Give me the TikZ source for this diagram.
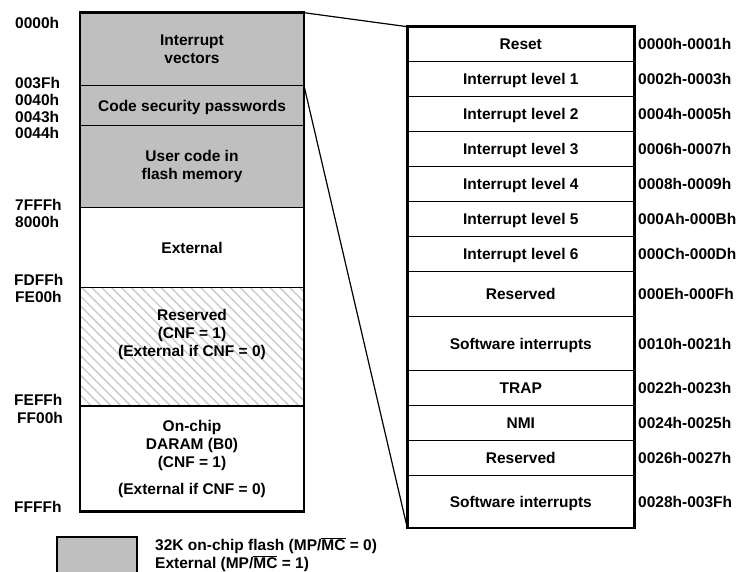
\documentclass[tikz,border=0pt]{standalone}
\usepackage{fontspec}
\setmainfont{Liberation Sans}
\usetikzlibrary{positioning,patterns.meta}

\definecolor{flashgray}{gray}{0.75}
\definecolor{hatchgray}{gray}{0.8}

\tikzset{
  region/.style={draw,line width=1.2pt,minimum width=224pt,inner sep=0pt,outer sep=0pt,align=center},
  capline/.style={text height=11.1pt,text depth=0pt},
  vrow/.style={draw,line width=1.2pt,minimum width=227pt,minimum height=35pt,inner sep=0pt,outer sep=0pt,capline},
  addr/.style={anchor=west,inner sep=0pt},
  frame/.style={line width=2.6pt},
  hatch/.style={pattern={Lines[angle=-45,distance=7pt,line width=1.5pt]},pattern color=hatchgray},
}

\begin{document}
\begin{tikzpicture}[x=1pt,y=-1pt,font=\fontsize{15.5}{18}\selectfont\bfseries]
        \useasboundingbox (0,0) rectangle (747,572);

        % карта памяти программ
        \node[region,fill=flashgray,minimum height=73pt] (vec) at (192,49.2) {Interrupt\\vectors};
        \node[region,capline,fill=flashgray,minimum height=40pt,below=0pt of vec] (pwd) {Code security passwords};
        \node[region,fill=flashgray,minimum height=82pt,below=0pt of pwd] (usr) {User code in\\flash memory};
        \node[region,capline,minimum height=79.6pt,below=0pt of usr] (ext) {External};
        \node[region,hatch,minimum height=118.7pt,below=0pt of ext,
              label={[align=center,yshift=11.7pt]center:Reserved\\(CNF = 1)\\(External if CNF = 0)}] (rsv) {};
        \node[region,minimum height=105.7pt,below=0pt of rsv] (ram) {On-chip\\DARAM (B0)\\(CNF = 1)\\[9pt](External if CNF = 0)};
        \draw[frame] (vec.north west) rectangle (ram.south east);

        % адреса слева
        \node[addr] (a0000) at (15,22.7) {0000h};
        \node[addr] (a003F) at (15,83.3) {003Fh};
        \node[addr] (a0040) at (15,100) {0040h};
        \node[addr] (a0043) at (15,116.7) {0043h};
        \node[addr] (a0044) at (15,133) {0044h};
        \node[addr] (a7FFF) at (15,205) {7FFFh};
        \node[addr] (a8000) at (15,221.7) {8000h};
        \node[addr] (aFDFF) at (14,280) {FDFFh};
        \node[addr] (aFE00) at (15,297) {FE00h};
        \node[addr] (aFEFF) at (14,400) {FEFFh};
        \node[addr] (aFF00) at (17,418) {FF00h};
        \node[addr] (aFFFF) at (14,507) {FFFFh};

        % таблица векторов
        \node[vrow] (v0) at (520.8,44.2) {Reset};
        \node[vrow,below=0pt of v0] (v1) {Interrupt level 1};
        \node[vrow,below=0pt of v1] (v2) {Interrupt level 2};
        \node[vrow,below=0pt of v2] (v3) {Interrupt level 3};
        \node[vrow,below=0pt of v3] (v4) {Interrupt level 4};
        \node[vrow,below=0pt of v4] (v5) {Interrupt level 5};
        \node[vrow,below=0pt of v5] (v6) {Interrupt level 6};
        \node[vrow,minimum height=45pt,below=0pt of v6] (v7) {Reserved};
        \node[vrow,minimum height=54pt,below=0pt of v7] (v8) {Software interrupts};
        \node[vrow,below=0pt of v8] (v9) {TRAP};
        \node[vrow,below=0pt of v9] (v10) {NMI};
        \node[vrow,below=0pt of v10] (v11) {Reserved};
        \node[vrow,minimum height=52.3pt,below=0pt of v11] (v12) {Software interrupts};
        \draw[frame] (v0.north west) rectangle (v12.south east);

        % адреса справа
        \node[addr,right=3.7pt of v0] (h0) {0000h-0001h};
        \node[addr,right=3.7pt of v1] (h1) {0002h-0003h};
        \node[addr,right=3.7pt of v2] (h2) {0004h-0005h};
        \node[addr,right=3.7pt of v3] (h3) {0006h-0007h};
        \node[addr,right=3.7pt of v4] (h4) {0008h-0009h};
        \node[addr,right=3.7pt of v5] (h5) {000Ah-000Bh};
        \node[addr,right=3.7pt of v6] (h6) {000Ch-000Dh};
        \node[addr,right=3.7pt of v7] (h7) {000Eh-000Fh};
        \node[addr,right=3.7pt of v8] (h8) {0010h-0021h};
        \node[addr,right=3.7pt of v9] (h9) {0022h-0023h};
        \node[addr,right=3.7pt of v10] (h10) {0024h-0025h};
        \node[addr,right=3.7pt of v11] (h11) {0026h-0027h};
        \node[addr,right=3.7pt of v12] (h12) {0028h-003Fh};

        % выноска
        \draw[line width=1.2pt] (vec.north east) -- (v0.north west);
        \draw[line width=1.2pt] (pwd.north east) -- (v12.south west);

        % легенда
        \draw[frame,fill=flashgray] (57,573) |- (137,537) -- (137,573);
        \node[anchor=west,align=left,inner sep=0pt] (lgd) at (155,554.4)
            {32K on-chip flash (MP/$\overline{\mbox{MC}}$ = 0)\\External (MP/$\overline{\mbox{MC}}$ = 1)};
\end{tikzpicture}
\end{document}
